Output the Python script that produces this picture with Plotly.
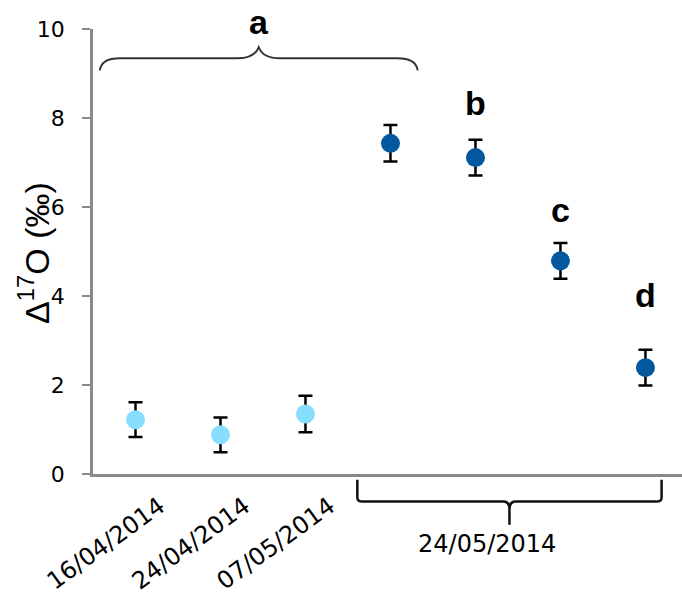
import plotly.graph_objects as go

# ---- data ----
sample_pos = [0, 1, 2, 3, 4, 5, 6]
sample_dates = ["16/04/2014", "24/04/2014", "07/05/2014",
                "24/05/2014", "24/05/2014", "24/05/2014", "24/05/2014"]
d17o = [1.22, 0.88, 1.35, 7.43, 7.11, 4.79, 2.39]
d17o_err = [0.39, 0.39, 0.41, 0.41, 0.40, 0.40, 0.40]
group_letters = ["a", "b", "c", "d"]
letter_pos = [1.45, 4, 5, 6]
letter_y = [None, 8.34, 5.93, 4.03]
y_title = "Δ<sup>17</sup>O (‰)"

early = slice(0, 3)
late = slice(3, 7)

LIGHT = "#87DEFF"
DARK = "#02589E"

fig = go.Figure()
fig.add_trace(go.Scatter(
    x=sample_pos[early], y=d17o[early], mode="markers",
    marker=dict(color=LIGHT, size=19),
    error_y=dict(type="data", array=d17o_err[early], color="black", thickness=2.5, width=7),
    showlegend=False,
))
fig.add_trace(go.Scatter(
    x=sample_pos[late], y=d17o[late], mode="markers",
    marker=dict(color=DARK, size=19),
    error_y=dict(type="data", array=d17o_err[late], color="black", thickness=2.5, width=7),
    showlegend=False,
))

# top brace over group a (data coords)
fig.add_shape(type="path", xref="x", yref="y",
              path="M -0.42,9.07 Q -0.40,9.34 -0.185,9.34 L 1.19,9.34 Q 1.40,9.34 1.45,9.59 "
                   "Q 1.50,9.34 1.70,9.34 L 3.08,9.34 Q 3.30,9.34 3.32,9.07",
              line=dict(color="#333333", width=2))
# bottom brace for the 24/05/2014 samples
fig.add_shape(type="path", xref="x", yref="paper",
              path="M 2.61,-0.013 L 2.61,-0.052 Q 2.61,-0.062 2.67,-0.062 L 4.33,-0.062 "
                   "Q 4.40,-0.062 4.40,-0.080 Q 4.40,-0.062 4.47,-0.062 L 6.13,-0.062 "
                   "Q 6.19,-0.062 6.19,-0.052 L 6.19,-0.013 M 4.40,-0.080 L 4.40,-0.114",
              line=dict(color="#111111", width=2.5))

letter_font = dict(family="Liberation Sans", size=34, color="black", weight="bold")
fig.add_annotation(x=letter_pos[0], y=1.064, xref="x", yref="paper", text=group_letters[0],
                   showarrow=False, font=letter_font, yanchor="top")
for lt, xp, yp in zip(group_letters[1:], letter_pos[1:], letter_y[1:]):
    fig.add_annotation(x=xp, y=yp, xref="x", yref="y", text=lt, showarrow=False,
                       font=letter_font, yanchor="middle")

fig.add_annotation(x=4.14, y=-0.158, xref="x", yref="paper", text=sample_dates[3],
                   showarrow=False, font=dict(family="DejaVu Sans", size=24, color="black"),
                   yanchor="middle")

# y-axis title
fig.add_annotation(x=-0.1, y=0.497, xref="paper", yref="paper", text=y_title,
                   textangle=-90, showarrow=False, xanchor="center", yanchor="middle",
                   font=dict(family="Liberation Sans", size=34, color="black"))

fig.update_layout(
    width=682, height=603,
    margin=dict(l=93, r=0, t=29, b=129),
    plot_bgcolor="white", paper_bgcolor="white",
)
fig.update_xaxes(
    range=[-0.5, 6.43], tickmode="array", tickvals=sample_pos[early], ticktext=sample_dates[early],
    tickangle=-36, ticks="", showgrid=False, zeroline=False,
    showline=True, linecolor="#898989", linewidth=2.5,
    tickfont=dict(family="DejaVu Sans", size=24, color="black"),
    ticklabelshift=24, ticklabelstandoff=6,
)
fig.update_yaxes(
    range=[0, 10], tickvals=[0, 2, 4, 6, 8, 10], showgrid=False, zeroline=False,
    showline=True, linecolor="#898989", linewidth=2.5,
    ticks="outside", ticklen=8, tickcolor="#898989", tickwidth=2,
    tickfont=dict(family="DejaVu Sans", size=22, color="black"),
    ticklabelstandoff=13,
)

fig.write_html("out.html")
